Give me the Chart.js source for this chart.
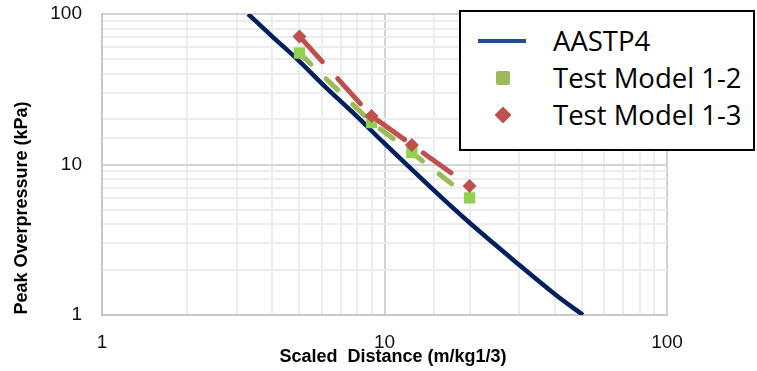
<!DOCTYPE html>
<html>
<head>
    <title>Peak Overpressure vs Scaled Distance</title>
    <script src="https://cdn.jsdelivr.net/npm/chart.js"></script>
    <style>
        html, body {
            margin: 0;
            padding: 0;
            background: #fff;
        }
        #wrap {
            position: relative;
            width: 757px;
            height: 371px;
            overflow: hidden;
        }
        #legend {
            position: absolute;
            left: 459px;
            top: 10px;
            width: 292px;
            height: 137px;
            border: 2px solid #000;
            background: #fff;
            font-family: 'Open Sans', sans-serif;
            font-size: 27.5px;
            color: #000;
        }
        .row {
            position: absolute;
            left: 0;
            height: 36px;
            line-height: 36px;
            white-space: nowrap;
        }
        .row span.lbl {
            position: absolute;
            left: 92px;
        }
        .sym {
            position: absolute;
        }
    </style>
</head>
<body>
<div id="wrap">
    <canvas id="myChart" width="757" height="371"></canvas>
    <div id="legend">
        <div class="row" style="top:11px">
            <div class="sym" style="left:17px; top:16px; width:48px; height:4px; background:#1F4E8C;"></div>
            <span class="lbl">AASTP4</span>
        </div>
        <div class="row" style="top:48px">
            <div class="sym" style="left:35px; top:11px; width:14px; height:14px; background:#9BBB59; border-radius:2px;"></div>
            <span class="lbl">Test Model 1-2</span>
        </div>
        <div class="row" style="top:85px">
            <div class="sym" style="left:36px; top:12px; width:12px; height:12px; background:#C0504D; transform:rotate(45deg); border-radius:1px;"></div>
            <span class="lbl">Test Model 1-3</span>
        </div>
    </div>
</div>

<script>
    // values
    const aastpX = [3.29, 4, 5, 6, 8, 10, 15, 20, 30, 40, 50.4];
    const aastpY = [100, 71, 48.5, 34.5, 20.8, 13.8, 6.7, 4.1, 2.15, 1.38, 1];

    const model12X = [5, 9, 12.5, 20];
    const model12Y = [55, 19, 12, 6];

    const model13X = [5, 9, 12.5, 20];
    const model13Y = [71, 21, 13.5, 7.2];

    const tickLabels = ['1', '10', '100'];

    const toPoints = (xs, ys) => xs.map((x, i) => ({ x: x, y: ys[i] }));

    const isDecade = v => Math.abs(Math.log10(v) - Math.round(Math.log10(v))) < 1e-6;

    function decadeLabel(value) {
        const s = String(Math.round(value));
        return isDecade(value) && tickLabels.includes(s) ? s : '';
    }

    // axis titles placed like the original (Excel puts them slightly off-centre)
    const axisTitles = {
        id: 'axisTitles',
        afterDraw(chart) {
            const ctx = chart.ctx;
            ctx.save();
            ctx.fillStyle = '#000';
            ctx.font = 'bold 18px "Liberation Sans", Arial, sans-serif';
            ctx.textAlign = 'center';
            ctx.textBaseline = 'middle';
            ctx.fillText('Scaled  Distance (m/kg1/3)', 393, 357);
            ctx.translate(22, 208);
            ctx.rotate(-Math.PI / 2);
            ctx.fillText('Peak Overpressure (kPa)', 0, 0);
            ctx.restore();
        }
    };

    const gridColor = c => (c.tick && isDecade(c.tick.value)) ? '#d3d3d3' : '#ececec';

    const ctx = document.getElementById('myChart').getContext('2d');
    new Chart(ctx, {
        type: 'line',
        data: {
            datasets: [
                {
                    label: 'AASTP4',
                    data: toPoints(aastpX, aastpY),
                    borderColor: '#002060',
                    borderWidth: 4.5,
                    pointRadius: 0,
                    tension: 0.35,
                    order: 3
                },
                {
                    label: 'Test Model 1-2',
                    data: toPoints(model12X, model12Y),
                    borderColor: '#9BBB59',
                    borderWidth: 5,
                    borderDash: [16, 21],
                    borderCapStyle: 'round',
                    pointStyle: 'rect',
                    pointRadius: 8,
                    pointBackgroundColor: '#92D050',
                    pointBorderWidth: 0,
                    order: 2
                },
                {
                    label: 'Test Model 1-3',
                    data: toPoints(model13X, model13Y),
                    borderColor: '#C0504D',
                    borderWidth: 5,
                    borderDash: [34, 23],
                    borderCapStyle: 'round',
                    pointStyle: 'rectRot',
                    pointRadius: 7,
                    pointBackgroundColor: '#C0504D',
                    pointBorderWidth: 0,
                    order: 1
                }
            ]
        },
        options: {
            responsive: false,
            animation: false,
            layout: {
                padding: { top: 14, right: 90, left: 0, bottom: 0 }
            },
            plugins: {
                legend: { display: false },
                tooltip: { enabled: false }
            },
            scales: {
                x: {
                    type: 'logarithmic',
                    min: 1,
                    max: 100,
                    afterFit: s => { s.height = 56; s.paddingLeft = 0; s.paddingRight = 0; },
                    grid: { color: gridColor, lineWidth: 2, drawTicks: false },
                    border: { color: '#c8c8c8', width: 2 },
                    ticks: {
                        autoSkip: false,
                        maxRotation: 0,
                        padding: 16,
                        color: '#111',
                        font: { family: '"Liberation Sans", Arial, sans-serif', size: 19 },
                        callback: v => decadeLabel(v)
                    }
                },
                y: {
                    type: 'logarithmic',
                    min: 1,
                    max: 100,
                    afterFit: s => { s.width = 102; s.paddingTop = 0; s.paddingBottom = 0; },
                    grid: { color: gridColor, lineWidth: 2, drawTicks: false },
                    border: { color: '#c8c8c8', width: 2 },
                    ticks: {
                        autoSkip: false,
                        padding: 20,
                        color: '#111',
                        font: { family: '"Liberation Sans", Arial, sans-serif', size: 19 },
                        callback: v => decadeLabel(v)
                    }
                }
            }
        },
        plugins: [axisTitles]
    });
</script>
</body>
</html>
